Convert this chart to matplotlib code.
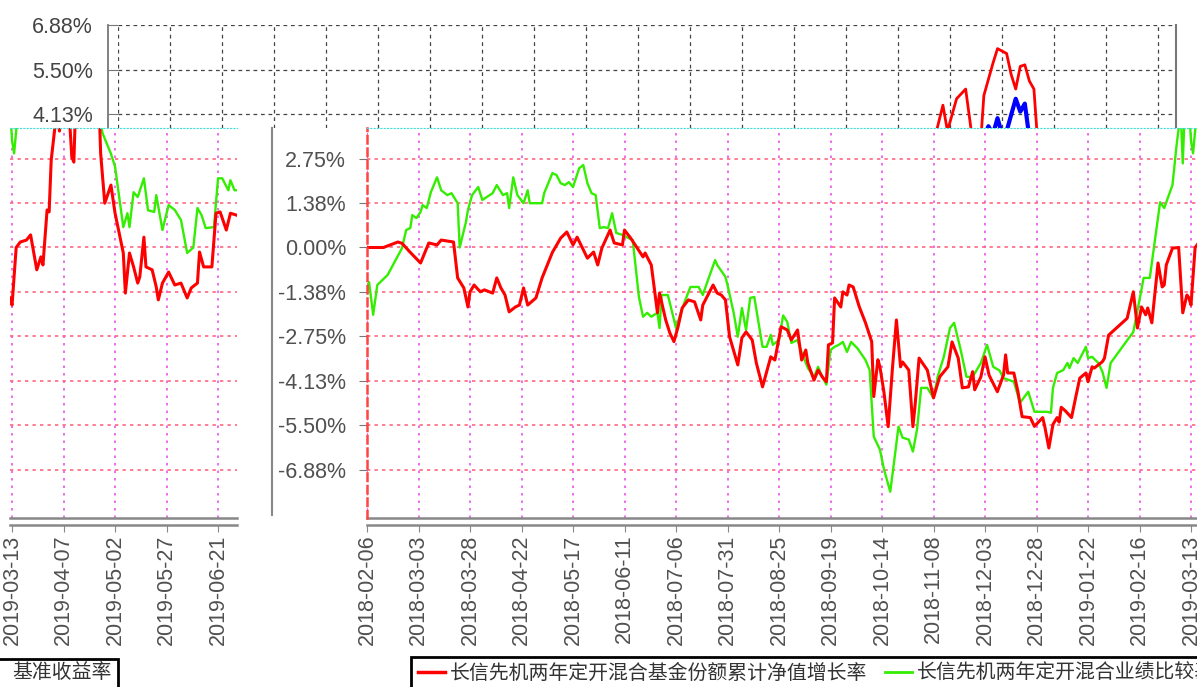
import numpy as np
import pandas as pd
import matplotlib
matplotlib.use('Agg')
import matplotlib.pyplot as plt
from matplotlib.lines import Line2D
from matplotlib.patches import Rectangle

plt.rcParams['font.family'] = ['Liberation Sans', 'Noto Sans CJK SC']

# red: fund cumulative NAV growth (%)
fund_dates = [
    "2018-02-06", "2018-02-14", "2018-02-21", "2018-02-23", "2018-02-27", "2018-03-04", "2018-03-08", "2018-03-12",
    "2018-03-14", "2018-03-17", "2018-03-20", "2018-03-22", "2018-03-25", "2018-03-27", "2018-03-28", "2018-03-30",
    "2018-04-02", "2018-04-04", "2018-04-08", "2018-04-10", "2018-04-12", "2018-04-14", "2018-04-16", "2018-04-19",
    "2018-04-21", "2018-04-23", "2018-04-25", "2018-04-29", "2018-05-02", "2018-05-07", "2018-05-11", "2018-05-14",
    "2018-05-17", "2018-05-19", "2018-05-24", "2018-05-27", "2018-05-29", "2018-05-31", "2018-06-04", "2018-06-06",
    "2018-06-10", "2018-06-11", "2018-06-14", "2018-06-17", "2018-06-20", "2018-06-21", "2018-06-24", "2018-06-27",
    "2018-06-28", "2018-07-01", "2018-07-03", "2018-07-05", "2018-07-07", "2018-07-09", "2018-07-12", "2018-07-15",
    "2018-07-18", "2018-07-19", "2018-07-24", "2018-07-26", "2018-07-28", "2018-07-30", "2018-08-01", "2018-08-05",
    "2018-08-07", "2018-08-09", "2018-08-12", "2018-08-14", "2018-08-17", "2018-08-21", "2018-08-23", "2018-08-26",
    "2018-08-29", "2018-08-31", "2018-09-03", "2018-09-05", "2018-09-07", "2018-09-08", "2018-09-11", "2018-09-13",
    "2018-09-15", "2018-09-17", "2018-09-18", "2018-09-20", "2018-09-21", "2018-09-24", "2018-09-25", "2018-09-27",
    "2018-09-28", "2018-09-30", "2018-10-03", "2018-10-06", "2018-10-09", "2018-10-10", "2018-10-12", "2018-10-13",
    "2018-10-15", "2018-10-17", "2018-10-19", "2018-10-21", "2018-10-23", "2018-10-24", "2018-10-27", "2018-10-29",
    "2018-10-30", "2018-11-01", "2018-11-05", "2018-11-08", "2018-11-11", "2018-11-15", "2018-11-17", "2018-11-20",
    "2018-11-22", "2018-11-25", "2018-11-27", "2018-11-28", "2018-12-01", "2018-12-03", "2018-12-05", "2018-12-09",
    "2018-12-12", "2018-12-13", "2018-12-14", "2018-12-17", "2018-12-19", "2018-12-21", "2018-12-25", "2018-12-27",
    "2018-12-31", "2019-01-01", "2019-01-03", "2019-01-05", "2019-01-07", "2019-01-08", "2019-01-09", "2019-01-11",
    "2019-01-14", "2019-01-16", "2019-01-18", "2019-01-21", "2019-01-22", "2019-01-24", "2019-01-25", "2019-01-27",
    "2019-01-29", "2019-01-30", "2019-02-01", "2019-02-10", "2019-02-13", "2019-02-15", "2019-02-17", "2019-02-19",
    "2019-02-20", "2019-02-22", "2019-02-25", "2019-02-27", "2019-02-28", "2019-03-01", "2019-03-04", "2019-03-07",
    "2019-03-09", "2019-03-11", "2019-03-12", "2019-03-13", "2019-03-15", "2019-03-17", "2019-03-20", "2019-03-22",
    "2019-03-25", "2019-03-27", "2019-03-28", "2019-03-30", "2019-03-31", "2019-04-01", "2019-04-04", "2019-04-05",
    "2019-04-07", "2019-04-09", "2019-04-11", "2019-04-12", "2019-04-13", "2019-04-15", "2019-04-16", "2019-04-18",
    "2019-04-19", "2019-04-20", "2019-04-21", "2019-04-22", "2019-04-23", "2019-04-24", "2019-04-25", "2019-04-27",
    "2019-04-30", "2019-05-02", "2019-05-06", "2019-05-07", "2019-05-09", "2019-05-11", "2019-05-13", "2019-05-14",
    "2019-05-16", "2019-05-17", "2019-05-20", "2019-05-22", "2019-05-23", "2019-05-25", "2019-05-28", "2019-05-31",
    "2019-06-03", "2019-06-06", "2019-06-08", "2019-06-11", "2019-06-12", "2019-06-14", "2019-06-18", "2019-06-20",
    "2019-06-22", "2019-06-25", "2019-06-27", "2019-06-30",
]
fund_vals = [
    0.00, 0.00, 0.17, 0.13, -0.15, -0.48, 0.14, 0.08,
    0.23, 0.20, 0.17, -0.94, -1.25, -1.84, -1.37, -1.16,
    -1.37, -1.31, -1.41, -0.94, -1.25, -1.47, -1.99, -1.84,
    -1.78, -1.25, -1.78, -1.56, -0.94, -0.15, 0.29, 0.48,
    0.08, 0.32, -0.33, -0.14, -0.54, -0.02, 0.54, 0.14,
    0.08, 0.54, 0.29, 0.00, -0.29, -0.17, -0.54, -2.02,
    -1.41, -2.24, -2.64, -2.91, -2.45, -1.87, -1.62, -1.68,
    -2.24, -1.78, -1.16, -1.41, -1.47, -1.62, -2.76, -3.63,
    -2.79, -2.61, -2.86, -3.57, -4.31, -3.38, -3.48, -2.45,
    -2.55, -2.86, -2.55, -3.48, -3.17, -3.57, -4.10, -3.79,
    -4.00, -4.15, -3.01, -2.95, -1.56, -1.84, -1.37, -1.47,
    -1.16, -1.22, -1.84, -2.33, -2.91, -4.61, -3.47, -3.69,
    -4.50, -5.54, -3.79, -2.24, -3.69, -3.54, -3.79, -5.54,
    -4.92, -3.42, -3.79, -4.65, -4.00, -3.69, -2.92, -3.42,
    -4.34, -4.31, -3.84, -4.40, -4.00, -3.38, -3.95, -4.46,
    -3.94, -3.32, -3.88, -3.88, -4.46, -5.23, -5.26, -5.53,
    -5.26, -5.53, -6.20, -5.47, -5.26, -5.40, -4.94, -5.05,
    -5.26, -4.64, -4.04, -3.88, -4.15, -3.69, -3.73, -3.63,
    -3.53, -3.42, -2.71, -2.19, -1.37, -2.49, -1.84, -2.08,
    -1.87, -2.33, -0.48, -1.22, -1.16, -0.54, -0.02, 0.00,
    -2.02, -1.47, -1.56, -1.78, 0.00, 0.17, 0.23, 0.39,
    -0.69, -0.29, -0.54, 1.16, 1.10, 2.70, 4.40, 3.60,
    4.60, 4.90, 2.80, 2.64, 4.70, 5.70, 6.15, 6.00,
    5.35, 4.90, 5.60, 5.65, 5.15, 4.90, 2.91, 1.37,
    1.93, 1.06, -0.17, -1.41, -0.17, -0.60, -1.10, -0.91,
    0.32, -0.60, -0.69, -1.22, -1.62, -1.10, -0.76, -1.16,
    -1.10, -1.56, -1.25, -1.10, -0.14, -0.60, -0.60, 1.06,
    1.10, 0.54, 1.06, 1.00,
]

# green: performance benchmark (%)
bench_dates = [
    "2018-02-06", "2018-02-07", "2018-02-09", "2018-02-11", "2018-02-16", "2018-02-23", "2018-02-25", "2018-02-27",
    "2018-02-28", "2018-03-02", "2018-03-04", "2018-03-05", "2018-03-07", "2018-03-09", "2018-03-12", "2018-03-14",
    "2018-03-17", "2018-03-19", "2018-03-21", "2018-03-22", "2018-03-23", "2018-03-26", "2018-03-27", "2018-03-29",
    "2018-04-01", "2018-04-03", "2018-04-08", "2018-04-10", "2018-04-13", "2018-04-15", "2018-04-16", "2018-04-18",
    "2018-04-20", "2018-04-23", "2018-04-25", "2018-04-26", "2018-05-02", "2018-05-03", "2018-05-07", "2018-05-09",
    "2018-05-11", "2018-05-13", "2018-05-15", "2018-05-17", "2018-05-20", "2018-05-22", "2018-05-24", "2018-05-26",
    "2018-05-28", "2018-05-30", "2018-06-01", "2018-06-03", "2018-06-05", "2018-06-07", "2018-06-10", "2018-06-12",
    "2018-06-15", "2018-06-18", "2018-06-20", "2018-06-22", "2018-06-24", "2018-06-27", "2018-06-28", "2018-06-29",
    "2018-07-02", "2018-07-03", "2018-07-06", "2018-07-08", "2018-07-10", "2018-07-13", "2018-07-17", "2018-07-19",
    "2018-07-21", "2018-07-25", "2018-07-26", "2018-07-30", "2018-07-31", "2018-08-03", "2018-08-05", "2018-08-07",
    "2018-08-09", "2018-08-11", "2018-08-13", "2018-08-17", "2018-08-19", "2018-08-21", "2018-08-22", "2018-08-25",
    "2018-08-27", "2018-08-29", "2018-08-31", "2018-09-03", "2018-09-04", "2018-09-08", "2018-09-11", "2018-09-13",
    "2018-09-15", "2018-09-17", "2018-09-19", "2018-09-21", "2018-09-23", "2018-09-25", "2018-09-27", "2018-09-29",
    "2018-10-02", "2018-10-06", "2018-10-08", "2018-10-10", "2018-10-13", "2018-10-15", "2018-10-18", "2018-10-20",
    "2018-10-22", "2018-10-24", "2018-10-27", "2018-10-29", "2018-10-31", "2018-11-02", "2018-11-05", "2018-11-08",
    "2018-11-10", "2018-11-13", "2018-11-16", "2018-11-18", "2018-11-21", "2018-11-24", "2018-11-27", "2018-12-01",
    "2018-12-04", "2018-12-07", "2018-12-10", "2018-12-12", "2018-12-17", "2018-12-20", "2018-12-24", "2018-12-27",
    "2019-01-02", "2019-01-04", "2019-01-05", "2019-01-07", "2019-01-10", "2019-01-12", "2019-01-13", "2019-01-15",
    "2019-01-17", "2019-01-19", "2019-01-21", "2019-01-22", "2019-01-24", "2019-01-27", "2019-01-29", "2019-01-31",
    "2019-02-02", "2019-02-13", "2019-02-16", "2019-02-18", "2019-02-21", "2019-02-26", "2019-02-28", "2019-03-04",
    "2019-03-06", "2019-03-08", "2019-03-09", "2019-03-10", "2019-03-12", "2019-03-13", "2019-03-14", "2019-03-16",
    "2019-03-23", "2019-03-31", "2019-04-08", "2019-04-16", "2019-04-22", "2019-04-26", "2019-04-30", "2019-05-02",
    "2019-05-06", "2019-05-08", "2019-05-09", "2019-05-11", "2019-05-13", "2019-05-16", "2019-05-18", "2019-05-21",
    "2019-05-22", "2019-05-25", "2019-05-28", "2019-05-31", "2019-06-03", "2019-06-06", "2019-06-09", "2019-06-11",
    "2019-06-13", "2019-06-15", "2019-06-19", "2019-06-21", "2019-06-23", "2019-06-26", "2019-06-27", "2019-06-29",
    "2019-07-01",
]
bench_vals = [
    -1.37, -1.07, -2.08, -1.16, -0.85, -0.02, 0.54, 0.60,
    1.00, 0.91, 1.10, 1.31, 1.22, 1.71, 2.17, 1.77,
    1.62, 1.68, 1.47, 1.37, 0.00, 0.78, 1.16, 1.62,
    1.87, 1.47, 1.68, 1.93, 1.62, 1.68, 1.22, 2.17,
    1.62, 1.37, 1.77, 1.37, 1.37, 1.68, 2.30, 2.24,
    1.99, 1.93, 2.02, 1.87, 2.45, 2.55, 1.99, 1.68,
    1.62, 0.60, 0.63, 0.60, 1.06, 0.45, 0.39, 0.32,
    0.23, -1.53, -2.14, -2.02, -2.14, -2.02, -2.49, -1.47,
    -1.47, -1.71, -2.49, -2.08, -1.71, -1.22, -1.22, -1.47,
    -1.10, -0.39, -0.54, -0.91, -1.16, -2.02, -2.76, -1.87,
    -2.55, -1.56, -1.53, -3.07, -3.07, -2.70, -3.01, -2.86,
    -2.10, -2.30, -2.95, -2.86, -3.07, -3.73, -4.00, -3.69,
    -4.00, -4.24, -3.17, -3.07, -3.01, -2.92, -3.23, -2.92,
    -3.11, -3.48, -3.79, -5.85, -6.25, -6.87, -7.55, -6.56,
    -5.54, -5.88, -5.94, -6.31, -5.63, -4.34, -4.34, -4.65,
    -4.00, -3.38, -2.49, -2.33, -3.11, -4.00, -4.00, -3.57,
    -3.01, -3.69, -3.80, -4.04, -4.15, -4.80, -4.46, -5.08,
    -5.08, -5.11, -4.34, -3.88, -3.79, -3.57, -3.73, -3.42,
    -3.57, -3.32, -3.07, -3.42, -3.38, -3.57, -3.84, -4.34,
    -3.57, -2.61, -1.62, -0.94, -0.94, 1.40, 1.22, 1.93,
    3.16, 4.20, 2.60, 4.30, 4.40, 3.30, 2.91, 4.30,
    4.80, 5.00, 5.30, 5.10, 4.60, 3.52, 2.90, 2.50,
    0.63, 1.06, 0.63, 1.71, 1.56, 2.14, 1.15, 1.10,
    1.62, 0.54, 1.31, 1.16, 0.85, -0.17, 0.00, 1.22,
    1.00, 0.60, 0.63, 2.14, 2.14, 1.77, 2.08, 1.77,
    1.77,
]

# blue fragment (基准收益率), only visible in the upper panel
base_dates = ["2019-04-13", "2019-04-14", "2019-04-15", "2019-04-16", "2019-04-17", "2019-04-18",
              "2019-04-20", "2019-04-21", "2019-04-22", "2019-04-23"]
base_vals = [3.40, 3.75, 3.50, 4.00, 3.50, 3.60, 4.60, 4.20, 4.45, 3.40]

ytick_vals = [2.75, 1.375, 0.0, -1.375, -2.75, -4.125, -5.5, -6.875]
ytick_labels = ["2.75%", "1.38%", "0.00%", "-1.38%", "-2.75%", "-4.13%", "-5.50%", "-6.88%"]
top_tick_vals = [4.125, 5.5, 6.875]
top_tick_labels = ["4.13%", "5.50%", "6.88%"]

fund_label = "长信先机两年定开混合基金份额累计净值增长率"
bench_label = "长信先机两年定开混合业绩比较基准收益率"
base_label = "基准收益率"

W, H = 1197, 687
RED = '#ff0000'
GREEN = '#33ee00'
TXT = '#505050'
FS = 15.5


def fbox(x0, y0, x1, y1):
    # pixel box (origin top-left) -> figure fraction
    return [x0 / W, 1 - y1 / H, (x1 - x0) / W, (y1 - y0) / H]


fund = pd.Series(fund_vals, index=pd.to_datetime(fund_dates))
bench = pd.Series(bench_vals, index=pd.to_datetime(bench_dates))
base = pd.Series(base_vals, index=pd.to_datetime(base_dates))

t0 = pd.Timestamp("2018-02-06")
ylo, yhi = -8.364, 3.695
px_day = 2.06

fig = plt.figure(figsize=(W / 100, H / 100), dpi=100)
fig.patch.set_facecolor('white')

# ---- upper panel (background layer, only its top band is visible)
ax_top = fig.add_axes(fbox(118, 25.2, 1176, 128))
top_px_day = 4.55
top_start = 240.7
ax_top.set_xlim(t0 + pd.Timedelta(days=top_start), t0 + pd.Timedelta(days=top_start + 1058 / top_px_day))
ax_top.set_ylim(ylo + 0 * yhi + (yhi - ylo) * 0 + (3.695 - ylo), 6.875)
ax_top.set_xticks([t0 + pd.Timedelta(days=d) for d in np.arange(top_start, top_start + 1058 / top_px_day, 52 / top_px_day)])
ax_top.set_yticks(top_tick_vals, top_tick_labels)
ax_top.tick_params(axis='x', length=0, labelbottom=False)
ax_top.tick_params(axis='y', direction='in', length=7, color='#777', pad=11, labelsize=FS, labelcolor='#444')
ax_top.grid(True, color='#444', linestyle=(0, (3, 3)), lw=0.9)
for s in ['top', 'bottom']:
    ax_top.spines[s].set_visible(False)
ax_top.spines['right'].set_color('#777')
ax_top.spines['right'].set_linewidth(1.5)
ax_top.spines['left'].set_position(('outward', 7))
ax_top.spines['left'].set_color('#777')
ax_top.spines['left'].set_linewidth(1.3)
ax_top.plot(fund.index, fund.values, color=RED, lw=2)
ax_top.plot(base.index, base.values, color='#0000ff', lw=3)


def style_panel(a, ticks, show_ylabels):
    a.set_ylim(ylo, yhi)
    a.set_xticks(ticks, [t.strftime('%Y-%m-%d') for t in ticks])
    a.set_yticks(ytick_vals, ytick_labels if show_ylabels else [])
    a.grid(axis='x', color='#ee55ee', linestyle=(0, (1.5, 3)), lw=1.2)
    a.grid(axis='y', color='#ff6680', linestyle=(0, (2, 2.5)), lw=1.2)
    a.tick_params(axis='x', length=5, color='#888', labelrotation=90, labelsize=FS, labelcolor=TXT, pad=2)
    if show_ylabels:
        a.tick_params(axis='y', length=6, color='#777', labelsize=FS, labelcolor=TXT, pad=9)
    else:
        a.tick_params(axis='y', length=0)
    a.spines['right'].set_visible(False)
    a.spines['top'].set_color('#44dddd')
    a.spines['top'].set_linestyle((0, (1, 2)))
    a.spines['bottom'].set_position(('outward', 5))
    a.spines['bottom'].set_color('#888')
    a.spines['bottom'].set_linewidth(1.8)
    a.plot([0, 1], [0, 0], transform=a.transAxes, color='#888', lw=1.8, clip_on=False)
    a.plot(bench.index, bench.values, color=GREEN, lw=1.7)
    a.plot(fund.index, fund.values, color=RED, lw=2.2)


# ---- main panel
ax = fig.add_axes(fbox(367, 128, 1260, 518))
ax.set_xlim(t0, t0 + pd.Timedelta(days=893 / px_day))
main_ticks = pd.date_range("2018-02-06", periods=18, freq="25D")
style_panel(ax, main_ticks, True)
ax.spines['left'].set_color('#ff4444')
ax.spines['left'].set_linestyle((0, (3, 2)))
ax.spines['left'].set_linewidth(1.8)

# ---- wrapped strip on the left
ax_s = fig.add_axes(fbox(10, 128, 237, 518))
s0 = pd.Timestamp("2019-03-12")
ax_s.set_xlim(s0, s0 + pd.Timedelta(days=227 / px_day))
strip_ticks = pd.date_range("2019-03-13", periods=5, freq="25D")
style_panel(ax_s, strip_ticks, False)
ax_s.spines['left'].set_visible(False)

fig.add_artist(Line2D([272 / W, 272 / W], [1 - 128 / H, 1 - 515 / H], color='#888', lw=1.5))

# ---- legends
handles = [Line2D([], [], color=RED, lw=2.5), Line2D([], [], color=GREEN, lw=2)]
leg = fig.legend(handles, [fund_label, bench_label], loc='upper left',
                 bbox_to_anchor=(411 / W, 1 - 657 / H), ncol=2, fontsize=14.3,
                 frameon=True, fancybox=False, edgecolor='black', framealpha=1,
                 handlelength=1.35, handletextpad=0.25, columnspacing=0.9,
                 borderpad=0.35, borderaxespad=0)
leg.get_frame().set_linewidth(2)
for t in leg.get_texts():
    t.set_color('#333')

fig.add_artist(Rectangle((-0.02, -0.1), 118 / W + 0.02, 0.1 + (1 - 659 / H),
                         transform=fig.transFigure, fill=False, ec='black', lw=2))
fig.text(12 / W, 1 - 673 / H, base_label, va='center', ha='left', fontsize=14.3, color='#333')

fig.savefig('out.png', dpi=100)
